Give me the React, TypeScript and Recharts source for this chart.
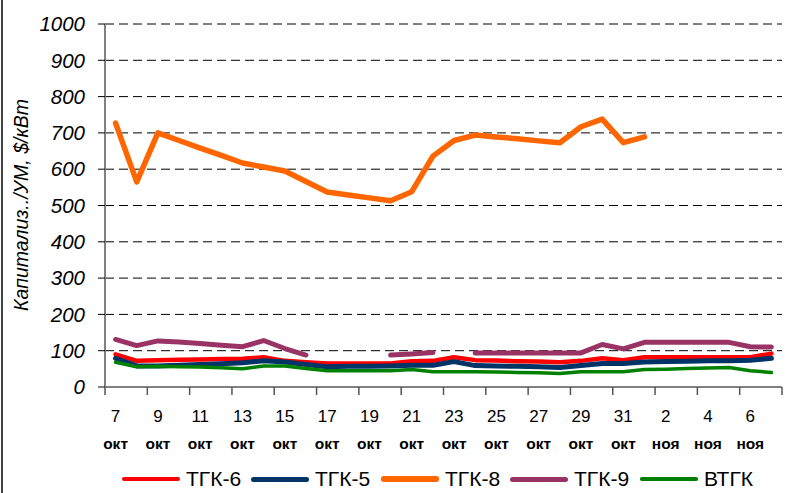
import { LineChart, Line, XAxis, YAxis, CartesianGrid } from "recharts";

const FONT = "'Liberation Sans', Arial, sans-serif";

// one category per calendar day, 7 Oct .. 7 Nov
const days = [
  "7", "8", "9", "10", "11", "12", "13", "14", "15", "16", "17", "18", "19", "20",
  "21", "22", "23", "24", "25", "26", "27", "28", "29", "30", "31",
  "1", "2", "3", "4", "5", "6", "7",
];
const months = [
  "окт", "окт", "окт", "окт", "окт", "окт", "окт", "окт", "окт", "окт", "окт", "окт", "окт", "окт",
  "окт", "окт", "окт", "окт", "окт", "окт", "окт", "окт", "окт", "окт", "окт",
  "ноя", "ноя", "ноя", "ноя", "ноя", "ноя", "ноя",
];

const tgk6 = [90, 72, 74, 75, 76, 77, 78, 82, 72, 68, 65, 65, 65, 65, 71, 72, 82, 74, 73, 71, 70, 68, 72, 79, 74, 82, 82, 82, 82, 82, 82, 92];
const tgk5 = [79, 58, 58, 60, 62, 64, 67, 72, 69, 62, 56, 57, 57, 58, 60, 60, 70, 59, 58, 57, 56, 54, 59, 65, 65, 69, 70, 71, 72, 72, 74, 79];
const tgk8 = [727, 565, 700, 679, 658, 638, 617, 606, 595, 566, 537, 529, 521, 513, 538, 636, 679, 694, 689, 684, 678, 673, 717, 738, 673, 689, null, null, null, null, null, null];
const tgk9 = [131, 114, 127, 124, 120, 115, 111, 128, 106, 88, null, null, null, 88, 91, 95, null, 94, 94, 94, 94, 94, 94, 117, 105, 123, 123, 123, 123, 123, 111, 110];
const vtgk = [68, 56, 57, 56, 55, 53, 50, 58, 58, 51, 45, 45, 45, 45, 48, 42, 42, 42, 41, 40, 39, 37, 42, 42, 42, 48, 49, 51, 52, 54, 45, 40];

const yTicks = [0, 100, 200, 300, 400, 500, 600, 700, 800, 900, 1000];

const series = [
  { key: "tgk6", name: "ТГК-6", color: "#ff0000", width: 4.5, values: tgk6, legendX: 122 },
  { key: "tgk5", name: "ТГК-5", color: "#003366", width: 5, values: tgk5, legendX: 251 },
  { key: "tgk8", name: "ТГК-8", color: "#ff6600", width: 5.5, values: tgk8, legendX: 381 },
  { key: "tgk9", name: "ТГК-9", color: "#993366", width: 5, values: tgk9, legendX: 510 },
  { key: "vtgk", name: "ВТГК", color: "#008000", width: 3.5, values: vtgk, legendX: 640 },
];

const labels = days.map((d, i) => `${d} ${months[i]}`);

const data = labels.map((label, i) => {
  const row: any = { label };
  series.forEach((s) => {
    row[s.key] = s.values[i];
  });
  return row;
});

// plot is 677px wide with 32 day slots
const HALF = 677 / 64;

function DayTick(props: any) {
  const { x, y, payload } = props;
  const [day, month] = String(payload.value).split(" ");
  const isLastShown = payload.value === labels[labels.length - 2];
  return (
    <g>
      <line x1={x - HALF} x2={x - HALF} y1={y} y2={y + 8} stroke="#555" strokeWidth={1.5} />
      {isLastShown && (
        <line x1={x + 3 * HALF} x2={x + 3 * HALF} y1={y} y2={y + 8} stroke="#555" strokeWidth={1.5} />
      )}
      <text x={x} y={y + 29} textAnchor="middle" dominantBaseline="central" fontSize={17} fill="#000">
        {day}
      </text>
      <text x={x} y={y + 56} textAnchor="middle" dominantBaseline="central" fontSize={15.5} fontWeight="bold" fill="#000">
        {month}
      </text>
    </g>
  );
}

export default function App() {
  return (
    <div
      style={{
        position: "absolute",
        left: 0,
        top: 0,
        width: 786,
        height: 493,
        background: "#fff",
        fontFamily: FONT,
        overflow: "hidden",
      }}
    >
      <div style={{ position: "absolute", left: 1, top: 0, width: 2, height: 493, background: "#444" }} />
      <LineChart width={786} height={493} data={data} margin={{ top: 24, right: 4, bottom: 0, left: 0 }}>
        <CartesianGrid horizontal vertical={false} stroke="#000" strokeDasharray="9 5" />
        <XAxis
          dataKey="label"
          height={106}
          interval={1}
          padding={{ left: HALF, right: HALF }}
          tickSize={0}
          tickMargin={0}
          tickLine={false}
          axisLine={{ stroke: "#808080", strokeWidth: 2 }}
          tick={<DayTick />}
        />
        <YAxis
          domain={[0, 1000]}
          ticks={yTicks}
          interval={0}
          width={105}
          tickSize={7}
          tickMargin={13}
          axisLine={{ stroke: "#808080", strokeWidth: 2 }}
          tickLine={{ stroke: "#000" }}
          tick={{ fontSize: 20.5, fontStyle: "italic", fill: "#000" }}
          label={{
            content: () => (
              <text
                x={21}
                y={205}
                transform="rotate(-90 21 205)"
                textAnchor="middle"
                dominantBaseline="central"
                fontSize={19.5}
                fontStyle="italic"
                fill="#000"
              >
                Капитализ../УМ, $/кВт
              </text>
            ),
          }}
        />
        {series.map((s) => (
          <Line
            key={s.key}
            type="linear"
            dataKey={s.key}
            name={s.name}
            stroke={s.color}
            strokeWidth={s.width}
            strokeLinecap="round"
            strokeLinejoin="round"
            dot={false}
            activeDot={false}
            isAnimationActive={false}
          />
        ))}
      </LineChart>
      {series.map((s) => (
        <div
          key={s.key}
          style={{
            position: "absolute",
            left: s.legendX,
            top: 469,
            height: 20,
            display: "flex",
            alignItems: "center",
            gap: 6,
          }}
        >
          <div
            style={{
              width: 58,
              height: s.width,
              background: s.color,
              borderRadius: s.width / 2,
            }}
          />
          <span style={{ fontSize: 21, color: "#000", lineHeight: "20px" }}>{s.name}</span>
        </div>
      ))}
    </div>
  );
}
